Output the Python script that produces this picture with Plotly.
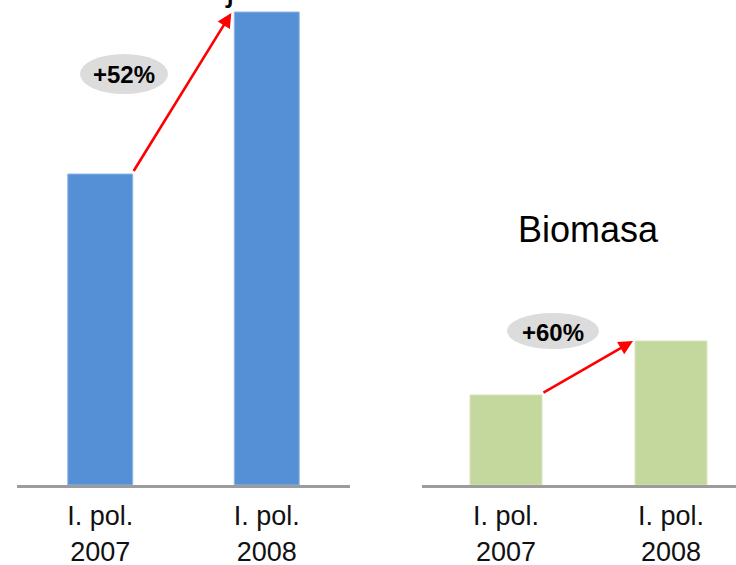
import plotly.graph_objects as go

# Data
periods = ["I. pol.<br>2007", "I. pol.<br>2008"]
oze = [31.1, 47.3]
biomasa = [9.0, 14.4]
growth_labels = ["+52%", "+60%"]
panel_titles = ["Obnovitelné zdroje", "Biomasa"]

W, H = 736, 565
FONT = "Liberation Sans, Arial, sans-serif"


def px(x):
    return x / W


def py(y):
    return 1 - y / H


bar_w = [0.39, 0.436]
colors = ["#5590d6", "#c4d79d"]
edges = ["#8fb6e6", "#d7e4bd"]

fig = go.Figure()
fig.add_trace(go.Bar(x=[0, 1], y=oze, width=bar_w[0], xaxis="x", yaxis="y",
                     marker=dict(color=colors[0], line=dict(color=edges[0], width=1)),
                     hoverinfo="skip"))
fig.add_trace(go.Bar(x=[0, 1], y=biomasa, width=bar_w[1], xaxis="x2", yaxis="y2",
                     marker=dict(color=colors[1], line=dict(color=edges[1], width=1)),
                     hoverinfo="skip"))

base_y = 485
y_top = 48.5
axis_common = dict(
    tickmode="array", tickvals=[0, 1], ticktext=periods,
    showline=True, linecolor="#9c9c9c", linewidth=3,
    showgrid=False, zeroline=False, ticks="", ticklabelstandoff=5,
    tickfont=dict(family=FONT, size=27, color="#111111"),
    automargin=False, fixedrange=True,
)
yaxis_common = dict(range=[0, y_top], domain=[py(base_y), 1], visible=False,
                    fixedrange=True)

fig.update_layout(
    width=W, height=H,
    margin=dict(l=0, r=0, t=0, b=0),
    paper_bgcolor="white", plot_bgcolor="white",
    showlegend=False,
    xaxis=dict(domain=[px(17), px(350)], range=[-0.5, 1.5], anchor="y", **axis_common),
    yaxis=dict(anchor="x", **yaxis_common),
    xaxis2=dict(domain=[px(422), 1], range=[-0.509, 1.394], anchor="y2", **axis_common),
    yaxis2=dict(anchor="x2", **yaxis_common),
)

# Growth arrows from the top of the 2007 bar toward the 2008 bar
arrow_specs = [("x", "y", oze, bar_w[0], 0.018, 0.1),
               ("x2", "y2", biomasa, bar_w[1], 0.012, 0.0)]
for xr, yr, vals, w, gap, drop in arrow_specs:
    fig.add_annotation(
        x=1 - w / 2 - gap, y=vals[1] - drop, xref=xr, yref=yr,
        ax=w / 2, ay=vals[0] + 0.15, axref=xr, ayref=yr,
        showarrow=True, arrowhead=2, arrowsize=1.1, arrowwidth=2.6,
        arrowcolor="#ff0000", standoff=0, startstandoff=0, text="",
    )

# Grey ellipses with growth percentages
ellipses = [(80, 54, 168, 94), (507, 313, 599, 349)]
for (x0, y0, x1, y1), label in zip(ellipses, growth_labels):
    fig.add_shape(type="circle", xref="paper", yref="paper",
                  x0=px(x0), x1=px(x1), y0=py(y1), y1=py(y0),
                  fillcolor="#dcdcdc", line=dict(width=0), layer="above")
    fig.add_annotation(x=px((x0 + x1) / 2), y=py((y0 + y1) / 2 + 1), xref="paper", yref="paper",
                       text=f"<b>{label}</b>", showarrow=False,
                       font=dict(family=FONT, size=24, color="#000000"),
                       xanchor="center", yanchor="middle")

# Panel titles (the left one sits almost entirely above the top edge)
title_pos = [(256, -13, "right"), (588, 229.6, "center")]
for (tx, ty, anchor), t in zip(title_pos, panel_titles):
    fig.add_annotation(x=px(tx), y=py(ty), xref="paper", yref="paper", text=t,
                       showarrow=False, font=dict(family=FONT, size=36, color="#000000"),
                       xanchor=anchor, yanchor="middle")

fig.write_html("out.html")
